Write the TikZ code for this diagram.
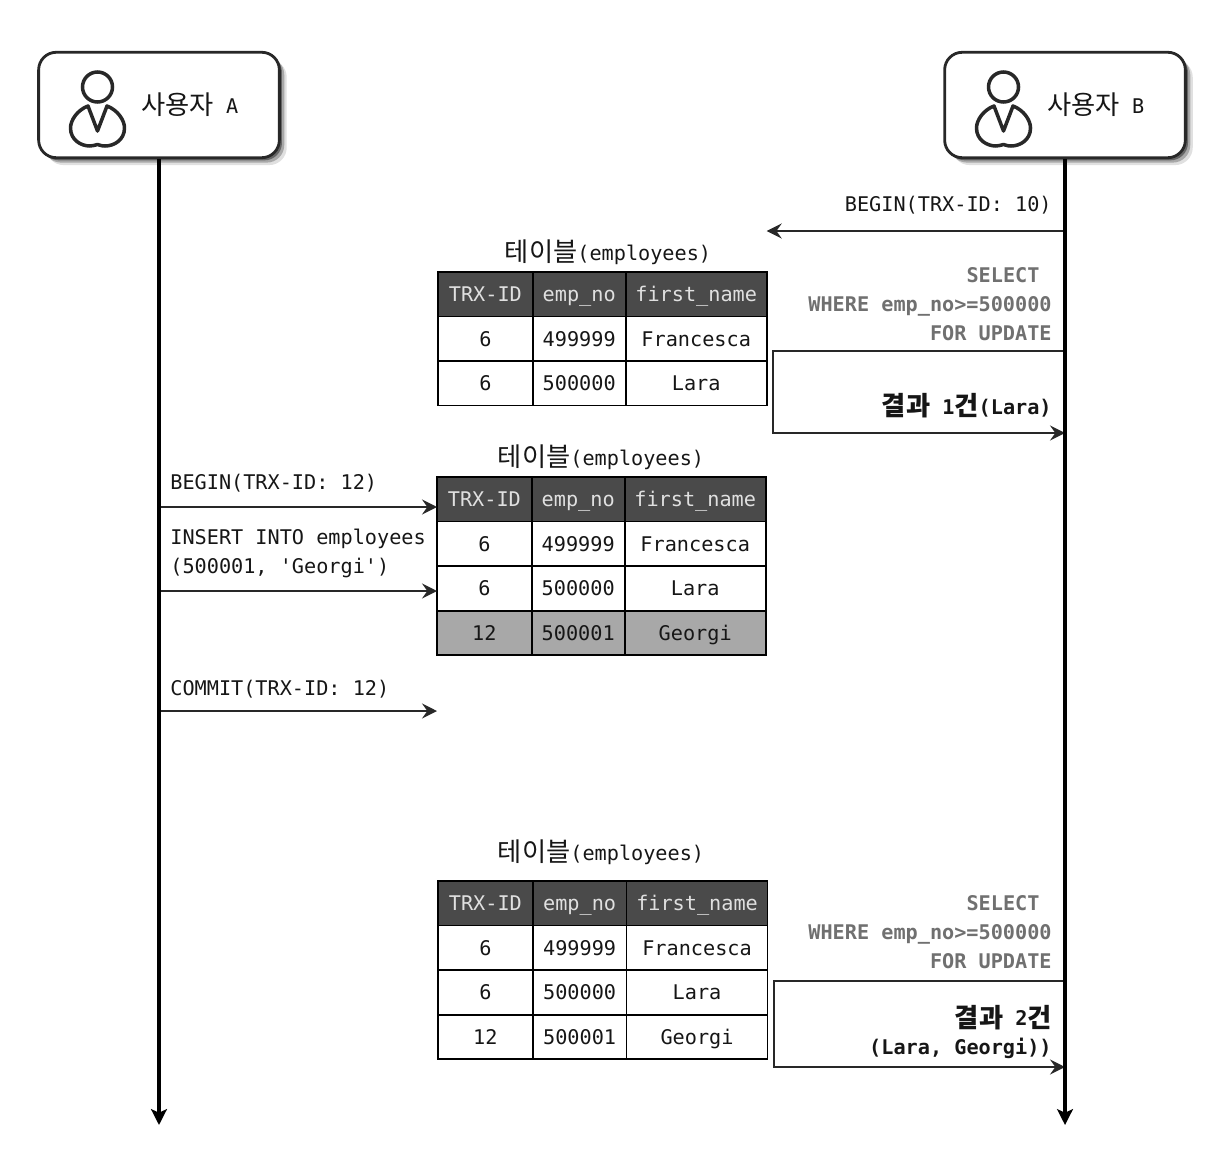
\documentclass[tikz,border=0pt]{standalone}
\usepackage{fontspec}
\newfontfamily\codefont{DejaVu Sans Mono}
\newfontfamily\krfont[Scale=1.3]{Noto Sans CJK KR}
\newcommand{\kr}[1]{\raisebox{-0.8pt}{\krfont #1}}
\usetikzlibrary{arrows.meta, positioning, shadows}
\definecolor{HeadGray}{RGB}{74, 74, 74}
\definecolor{RowGray}{RGB}{168, 168, 168}
\definecolor{QueryGray}{RGB}{112, 112, 112}
\definecolor{InkGray}{RGB}{40, 40, 40}
\definecolor{TextInk}{RGB}{22, 22, 22}
\tikzset{
  userbox/.style={rectangle, rounded corners=10pt, draw=InkGray, line width=1.6pt, fill=white,
                  minimum width=137pt, minimum height=60pt,
                  general shadow={shadow xshift=1.5pt, shadow yshift=-1.5pt, fill=black, opacity=0.4},
                  general shadow={shadow xshift=2.8pt, shadow yshift=-2.8pt, fill=black, opacity=0.25},
                  general shadow={shadow xshift=4.2pt, shadow yshift=-4.2pt, fill=black, opacity=0.12}},
  usertxt/.style={font=\codefont\fontsize{11.5}{14}\selectfont, text=TextInk, inner sep=0pt, anchor=west},
  cell/.style={rectangle, draw=black, line width=1pt, inner sep=0pt, outer sep=0pt,
               minimum height=25.35pt, text height=8.4pt, text depth=0pt,
               font=\codefont\fontsize{11.5}{14}\selectfont},
  headcell/.style={cell, fill=HeadGray, text=white!88!black},
  datacell/.style={cell, fill=white, text=TextInk},
  markcell/.style={cell, fill=RowGray, text=TextInk},
  colid/.style={minimum width=53.9pt},
  colno/.style={minimum width=52.9pt},
  colnm/.style={minimum width=80.3pt},
  captxt/.style={font=\codefont\fontsize{11.5}{14}\selectfont, text=TextInk, inner sep=0pt},
  msgtxt/.style={font=\codefont\fontsize{11.5}{16.4}\selectfont, text=TextInk, inner sep=0pt},
  qrytxt/.style={font=\codefont\bfseries\fontsize{11.5}{16.4}\selectfont, text=QueryGray, inner sep=0pt, align=right, anchor=east},
  restxt/.style={font=\codefont\bfseries\fontsize{11.5}{16.4}\selectfont, text=TextInk, inner sep=0pt, align=right, anchor=east},
  lifeline/.style={-{Stealth[length=9pt, width=9pt, inset=2pt]}, line width=2.5pt, draw=black},
  msgarr/.style={-{Stealth[length=8.5pt, width=8.5pt, inset=3pt]}, line width=1.1pt, draw=InkGray},
  resarr/.style={-{Stealth[length=8.5pt, width=8.5pt, inset=3pt]}, line width=1.6pt, draw=InkGray},
  pics/person/.style={code={
    \draw[line width=2pt, draw=InkGray] (0,0) circle[radius=15];
    \draw[line width=2pt, draw=InkGray, line join=round]
      (-9.5,19) -- (0,44) -- (9.5,19)
      .. controls (20,23) and (27,33) .. (27,41)
      .. controls (27,53) and (16.5,59) .. (7.5,59)
      .. controls (3.5,59) and (2.5,58) .. (0,57.5)
      .. controls (-2.5,58) and (-4.5,59) .. (-7.5,59)
      .. controls (-16.5,59) and (-27,53) .. (-27,41)
      .. controls (-27,33) and (-20,23) .. (-9.5,19) -- cycle;
  }},
}
\begin{document}
\begin{tikzpicture}[x=0.02cm, y=-0.02cm]
  \useasboundingbox (0,0) rectangle (1226,1152);

  % users
  \node[userbox] (usera) at (159,105) {};
  \node[userbox] (userb) at (1065,105) {};
  \pic (icona) at (97.5,87) {person};
  \pic (iconb) at (1003.5,87) {person};
  \node[usertxt] (labela) at (141,105) {\kr{사용자} A};
  \node[usertxt] (labelb) at (1047,105) {\kr{사용자} B};

  % points on the lifelines
  \coordinate (aend) at (159,1125);
  \coordinate (bend) at (1065,1125);
  \coordinate (abegin) at (159,507);
  \coordinate (ainsert) at (159,591);
  \coordinate (acommit) at (159,711);
  \coordinate (bbegin) at (1065,231);
  \coordinate (bq1) at (1065,351);
  \coordinate (br1) at (1065,433);
  \coordinate (bq2) at (1065,981);
  \coordinate (br2) at (1065,1067);

  % first table
  \node[captxt] (cap1) at (608,252) {\kr{테이블}(employees)};
  \node[headcell, colid, anchor=north west] (t1id0) at (438,272) {TRX-ID};
  \node[headcell, colno, right=0pt of t1id0] (t1no0) {emp\_no};
  \node[headcell, colnm, right=0pt of t1no0] (t1nm0) {first\_name};
  \foreach \r/\p/\id/\no/\nm in {1/0/6/499999/Francesca, 2/1/6/500000/Lara} {
    \node[datacell, colid, below=0pt of t1id\p] (t1id\r) {\id};
    \node[datacell, colno, below=0pt of t1no\p] (t1no\r) {\no};
    \node[datacell, colnm, below=0pt of t1nm\p] (t1nm\r) {\nm};
  }

  % second table
  \node[captxt] (cap2) at (601,457) {\kr{테이블}(employees)};
  \node[headcell, colid, anchor=north west] (t2id0) at (437,477) {TRX-ID};
  \node[headcell, colno, right=0pt of t2id0] (t2no0) {emp\_no};
  \node[headcell, colnm, right=0pt of t2no0] (t2nm0) {first\_name};
  \foreach \r/\p/\id/\no/\nm in {1/0/6/499999/Francesca, 2/1/6/500000/Lara} {
    \node[datacell, colid, below=0pt of t2id\p] (t2id\r) {\id};
    \node[datacell, colno, below=0pt of t2no\p] (t2no\r) {\no};
    \node[datacell, colnm, below=0pt of t2nm\p] (t2nm\r) {\nm};
  }
  \node[markcell, colid, below=0pt of t2id2] (t2id3) {12};
  \node[markcell, colno, below=0pt of t2no2] (t2no3) {500001};
  \node[markcell, colnm, below=0pt of t2nm2] (t2nm3) {Georgi};

  % third table
  \node[captxt] (cap3) at (601,852) {\kr{테이블}(employees)};
  \node[headcell, colid, anchor=north west] (t3id0) at (438,881) {TRX-ID};
  \node[headcell, colno, minimum width=53.4pt, right=0pt of t3id0] (t3no0) {emp\_no};
  \node[headcell, colnm, right=0pt of t3no0] (t3nm0) {first\_name};
  \foreach \r/\p/\id/\no/\nm in {1/0/6/499999/Francesca, 2/1/6/500000/Lara, 3/2/12/500001/Georgi} {
    \node[datacell, colid, below=0pt of t3id\p] (t3id\r) {\id};
    \node[datacell, colno, minimum width=53.4pt, below=0pt of t3no\p] (t3no\r) {\no};
    \node[datacell, colnm, below=0pt of t3nm\p] (t3nm\r) {\nm};
  }

  % messages of user A
  \node[msgtxt, anchor=west] (m1) at (170,483) {BEGIN(TRX-ID: 12)};
  \node[msgtxt, anchor=west, align=left] (m2) at (170,553.5) {INSERT INTO employees\\(500001, 'Georgi')};
  \node[msgtxt, anchor=west] (m3) at (170,689) {COMMIT(TRX-ID: 12)};
  \draw[msgarr] (abegin) -- (abegin -| t2id0.west);
  \draw[msgarr] (ainsert) -- (ainsert -| t2id0.west);
  \draw[msgarr] (acommit) -- (acommit -| t2id0.west);

  % messages of user B
  \node[msgtxt, anchor=east] (m4) at (1052,205) {BEGIN(TRX-ID: 10)};
  \draw[msgarr] (bbegin) -- (bbegin -| t1nm0.east);
  \node[qrytxt] (q1) at (1052,304) {SELECT\phantom{X}\\WHERE emp\_no>=500000\\FOR UPDATE};
  \node[restxt] (r1) at (1052,406) {\kr{결과} 1\kr{건}(Lara)};
  \draw[resarr] (bq1) -- (773,351) -- (773,433) -- (br1);
  \node[qrytxt] (q2) at (1052,932) {SELECT\phantom{X}\\WHERE emp\_no>=500000\\FOR UPDATE};
  \node[restxt] (r2) at (1052,1032) {\kr{결과} 2\kr{건}\\(Lara, Georgi))};
  \draw[resarr] (bq2) -- (774,981) -- (774,1067) -- (br2);

  % lifelines
  \draw[lifeline] (usera.south) -- (aend);
  \draw[lifeline] (userb.south) -- (bend);
\end{tikzpicture}
\end{document}
